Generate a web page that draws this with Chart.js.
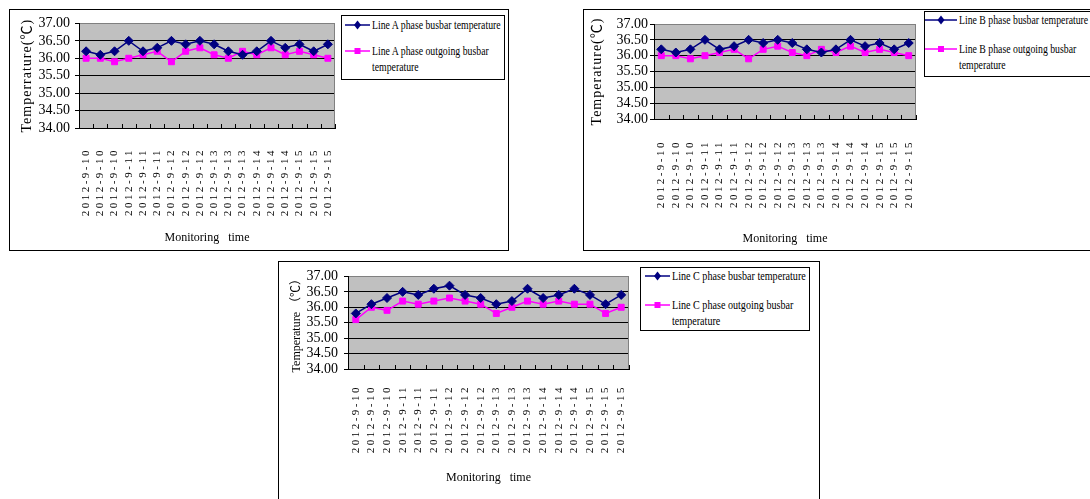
<!DOCTYPE html>
<html>
<head>
<meta charset="utf-8">
<script src="https://cdn.jsdelivr.net/npm/chart.js@4.4.0/dist/chart.umd.min.js"></script>
<style>
  html, body { margin: 0; padding: 0; background: #fff; }
  body { width: 1090px; height: 499px; overflow: hidden; position: relative;
         font-family: 'Liberation Serif', 'Times New Roman', serif; color: #000; }
  .frame { position: absolute; box-sizing: border-box; border: 1px solid #000; background: #fff; }
  .frame canvas { position: absolute; left: 0; top: 0; }
  .legend { position: absolute; box-sizing: border-box; border: 1px solid #000; background: #fff; }
  .item { display: flex; align-items: flex-start; }
  .item svg { flex: none; display: block; }
  .item span { flex: none; display: block; font-size: 11.5px; line-height: 16px; transform-origin: 0 0; white-space: normal; }
</style>
</head>
<body>
<script>
// Monitoring times (three readings per day)
const categories = [
  '2012-9-10', '2012-9-10', '2012-9-10',
  '2012-9-11', '2012-9-11', '2012-9-11',
  '2012-9-12', '2012-9-12', '2012-9-12',
  '2012-9-13', '2012-9-13', '2012-9-13',
  '2012-9-14', '2012-9-14', '2012-9-14',
  '2012-9-15', '2012-9-15', '2012-9-15'
];

// Temperature axis ticks (°C)
const tempTicks = [34.0, 34.5, 35.0, 35.5, 36.0, 36.5, 37.0];

// Line A
const busbarA   = [36.2, 36.1, 36.2, 36.5, 36.2, 36.3, 36.5, 36.4, 36.5, 36.4, 36.2, 36.1, 36.2, 36.5, 36.3, 36.4, 36.2, 36.4];
const outgoingA = [36.0, 36.0, 35.9, 36.0, 36.1, 36.2, 35.9, 36.2, 36.3, 36.1, 36.0, 36.2, 36.1, 36.3, 36.1, 36.2, 36.1, 36.0];

// Line B
const busbarB   = [36.2, 36.1, 36.2, 36.5, 36.2, 36.3, 36.5, 36.4, 36.5, 36.4, 36.2, 36.1, 36.2, 36.5, 36.3, 36.4, 36.2, 36.4];
const outgoingB = [36.0, 36.0, 35.9, 36.0, 36.1, 36.2, 35.9, 36.2, 36.3, 36.1, 36.0, 36.2, 36.1, 36.3, 36.1, 36.2, 36.1, 36.0];

// Line C
const busbarC   = [35.8, 36.1, 36.3, 36.5, 36.4, 36.6, 36.7, 36.4, 36.3, 36.1, 36.2, 36.6, 36.3, 36.4, 36.6, 36.4, 36.1, 36.4];
const outgoingC = [35.6, 36.0, 35.9, 36.2, 36.1, 36.2, 36.3, 36.2, 36.1, 35.8, 36.0, 36.2, 36.1, 36.2, 36.1, 36.1, 35.8, 36.0];

const xTitle = 'Monitoring   time';

Chart.defaults.font.family = "'Liberation Serif', 'Times New Roman', 'Noto Sans CJK SC', serif";
Chart.defaults.color = '#000';

// grey plot background, grey right edge and inward category tick marks
const plotDecor = {
  id: 'plotDecor',
  beforeDraw(chart) {
    const { ctx, chartArea: a } = chart;
    ctx.save();
    ctx.fillStyle = '#c0c0c0';
    ctx.fillRect(a.left, a.top, a.right - a.left, a.bottom - a.top);
    ctx.restore();
  },
  beforeDatasetsDraw(chart) {
    const { ctx, chartArea: a, scales: { x } } = chart;
    ctx.save();
    ctx.lineWidth = 1;
    ctx.strokeStyle = '#808080';
    ctx.beginPath();
    ctx.moveTo(Math.round(a.right) - 0.5, a.top);
    ctx.lineTo(Math.round(a.right) - 0.5, a.bottom);
    ctx.stroke();
    ctx.strokeStyle = '#000';
    ctx.beginPath();
    const n = x.ticks.length;
    for (let i = 0; i <= n; i++) {
      const px = Math.round(x.getPixelForValue(i - 0.5)) + 0.5;
      ctx.moveTo(px, a.bottom);
      ctx.lineTo(px, a.bottom - 4);
    }
    ctx.stroke();
    ctx.restore();
  }
};

// draw a scale's text with extra letter spacing
function spaceText(scale, method, spacing) {
  const base = scale[method];
  scale[method] = function (...args) {
    const c = this.ctx;
    const prev = c.letterSpacing;
    c.letterSpacing = spacing;
    base.apply(this, args);
    c.letterSpacing = prev;
  };
}

function markerSvg(ds, w) {
  const ns = 'http://www.w3.org/2000/svg';
  const svg = document.createElementNS(ns, 'svg');
  svg.setAttribute('width', w);
  svg.setAttribute('height', 16);
  const line = document.createElementNS(ns, 'line');
  line.setAttribute('x1', 0); line.setAttribute('y1', 8);
  line.setAttribute('x2', w); line.setAttribute('y2', 8);
  line.setAttribute('stroke', ds.borderColor);
  line.setAttribute('stroke-width', 1.5);
  svg.appendChild(line);
  const c = w / 2;
  let shape;
  if (ds.pointStyle === 'rectRot') {
    shape = document.createElementNS(ns, 'polygon');
    shape.setAttribute('points', `${c - 3.5},8 ${c},3.5 ${c + 3.5},8 ${c},12.5`);
  } else {
    shape = document.createElementNS(ns, 'rect');
    shape.setAttribute('x', c - 3); shape.setAttribute('y', 5);
    shape.setAttribute('width', 6); shape.setAttribute('height', 6);
  }
  shape.setAttribute('fill', ds.backgroundColor);
  svg.appendChild(shape);
  return svg;
}

function buildLegend(frame, chart, L) {
  const box = document.createElement('div');
  box.className = 'legend';
  Object.assign(box.style, {
    left: L.left + 'px', top: L.top + 'px', width: L.width + 'px', height: L.height + 'px',
    paddingTop: L.padTop + 'px'
  });
  chart.data.datasets.forEach((ds, i) => {
    const row = document.createElement('div');
    row.className = 'item';
    row.style.marginTop = (i ? L.gap : 0) + 'px';
    row.style.paddingLeft = L.markerLeft + 'px';
    row.appendChild(markerSvg(ds, L.marker));
    const span = document.createElement('span');
    span.textContent = ds.label;
    span.style.marginLeft = '2px';
    span.style.width = (L.textWidth / L.scale) + 'px';
    span.style.transform = `scaleX(${L.scale})`;
    row.appendChild(span);
    box.appendChild(row);
  });
  frame.appendChild(box);
}

function makePanel(p) {
  const frame = document.createElement('div');
  frame.className = 'frame';
  Object.assign(frame.style, {
    left: p.box[0] + 'px', top: p.box[1] + 'px', width: p.box[2] + 'px', height: p.box[3] + 'px'
  });
  const canvas = document.createElement('canvas');
  canvas.width = p.box[2] - 2;
  canvas.height = p.box[3] - 2;
  frame.appendChild(canvas);
  document.body.appendChild(frame);

  const chart = new Chart(canvas, {
    type: 'line',
    data: {
      labels: categories,
      datasets: [
        { label: p.names[0], data: p.busbar, borderColor: '#000080', backgroundColor: '#000080',
          borderWidth: 1.5, pointStyle: 'rectRot', pointRadius: 4.5, pointBorderWidth: 1, tension: 0 },
        { label: p.names[1], data: p.outgoing, borderColor: '#ff00ff', backgroundColor: '#ff00ff',
          borderWidth: 1.5, pointStyle: 'rect', pointRadius: 4.2, pointBorderWidth: 1, tension: 0 }
      ]
    },
    options: {
      responsive: false,
      animation: false,
      devicePixelRatio: 1,
      events: [],
      layout: { padding: { left: p.pad.left, top: p.pad.top, right: p.pad.right, bottom: 0 } },
      plugins: { legend: { display: false }, tooltip: { enabled: false } },
      scales: {
        x: {
          type: 'category',
          offset: true,
          grid: { display: true, drawOnChartArea: false, drawTicks: false },
          border: { color: '#000', width: 1 },
          ticks: { autoSkip: false, minRotation: 90, maxRotation: 90, padding: p.xTickPad,
                   color: '#000', font: { size: 11 } },
          title: { display: true, text: xTitle, color: '#000', font: { size: 12 },
                   padding: { top: 0, bottom: p.xTitlePad } },
          afterFit(s) { s.height = p.xHeight; s.paddingLeft = 0; s.paddingRight = 0; }
        },
        y: {
          min: 34, max: 37,
          afterBuildTicks(s) { s.ticks = tempTicks.map(v => ({ value: v })); },
          grid: { color: c => (c.tick && c.tick.value === 37 ? '#808080' : '#000'),
                  tickColor: '#000', tickLength: 4, lineWidth: 1 },
          border: { color: '#000', width: 1 },
          ticks: { autoSkip: false, padding: p.yTickPad, color: '#000', font: { size: 14 },
                   callback: v => Number(v).toFixed(2) },
          title: { display: true, text: p.yTitle, color: '#000', font: { size: p.yTitleSize },
                   padding: { top: p.yTitlePad, bottom: 0 } },
          afterFit(s) { s.width = p.yWidth; }
        }
      }
    },
    plugins: [plotDecor]
  });

  spaceText(chart.scales.x, 'drawLabels', '2.5px');
  spaceText(chart.scales.y, 'drawTitle', p.yTitleSpacing);
  chart.draw();

  buildLegend(frame, chart, p.legend);
}

makePanel({
  box: [9, 9, 500, 242],
  busbar: busbarA, outgoing: outgoingA,
  names: ['Line A phase busbar temperature', 'Line A phase outgoing busbar temperature'],
  yTitle: 'Temperrature(℃)', yTitleSize: 14, yTitleSpacing: '1px', yTitlePad: 5,
  pad: { left: 4, top: 12, right: 173 }, yWidth: 65, xHeight: 122,
  yTickPad: 5, xTickPad: 20, xTitlePad: 5,
  legend: { left: 331, top: 5, width: 164, height: 65, padTop: 1, gap: 10,
            marker: 25, markerLeft: 3, textWidth: 131, scale: 0.85 }
});

makePanel({
  box: [583, 9, 520, 242],
  busbar: busbarB, outgoing: outgoingB,
  names: ['Line B phase busbar temperature', 'Line B phase outgoing busbar temperature'],
  yTitle: 'Temperature(℃)', yTitleSize: 14, yTitleSpacing: '1px', yTitlePad: 3,
  pad: { left: 2, top: 14, right: 186 }, yWidth: 68, xHeight: 131,
  yTickPad: 2, xTickPad: 21, xTitlePad: 4,
  legend: { left: 340, top: 1, width: 172, height: 66, padTop: 0, gap: 13,
            marker: 32, markerLeft: 0, textWidth: 133, scale: 0.85 }
});

makePanel({
  box: [278, 261, 542, 241],
  busbar: busbarC, outgoing: outgoingC,
  names: ['Line C phase busbar temperature', 'Line C phase outgoing busbar temperature'],
  yTitle: 'Temperature （℃）', yTitleSize: 12, yTitleSpacing: '0px', yTitlePad: 7,
  pad: { left: 4, top: 11, right: 190 }, yWidth: 65, xHeight: 132,
  yTickPad: 6, xTickPad: 16, xTitlePad: 16,
  legend: { left: 361, top: 5, width: 170, height: 64, padTop: 0, gap: 13,
            marker: 25, markerLeft: 4, textWidth: 136, scale: 0.88 }
});
</script>
</body>
</html>
